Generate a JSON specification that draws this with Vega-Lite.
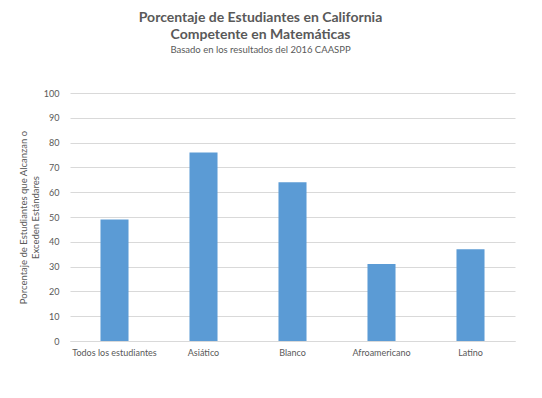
{
  "$schema": "https://vega.github.io/schema/vega-lite/v6.json",
  "width": 445,
  "height": 248,
  "autosize": {"type": "none"},
  "padding": {"left": 70, "top": 93, "right": 27, "bottom": 57},
  "background": "white",
  "title": {
    "text": ["Porcentaje de Estudiantes en California", "Competente en Matemáticas"],
    "subtitle": "Basado en los resultados  del 2016 CAASPP",
    "anchor": "middle",
    "frame": "group",
    "dx": -32,
    "offset": 35,
    "font": "Lato",
    "fontSize": 14,
    "fontWeight": "bold",
    "color": "#595959",
    "lineHeight": 17,
    "subtitleFont": "Lato",
    "subtitleFontSize": 9.5,
    "subtitleColor": "#595959",
    "subtitlePadding": 3
  },
  "data": {
    "values": [
      {"grupo": "Todos los estudiantes", "pct": 49},
      {"grupo": "Asiático", "pct": 76},
      {"grupo": "Blanco", "pct": 64},
      {"grupo": "Afroamericano", "pct": 31},
      {"grupo": "Latino", "pct": 37}
    ]
  },
  "mark": {"type": "bar", "color": "#5B9BD5"},
  "encoding": {
    "x": {
      "field": "grupo",
      "type": "nominal",
      "sort": null,
      "scale": {"paddingInner": 0.685, "paddingOuter": 0.3425},
      "axis": {
        "title": null,
        "labelAngle": 0,
        "labelFont": "Lato",
        "labelFontSize": 9,
        "labelColor": "#595959",
        "labelPadding": 7,
        "ticks": false,
        "domainColor": "#d9d9d9"
      }
    },
    "y": {
      "field": "pct",
      "type": "quantitative",
      "scale": {"domain": [0, 100]},
      "axis": {
        "values": [0, 10, 20, 30, 40, 50, 60, 70, 80, 90, 100],
        "title": ["Porcentaje de Estudiantes que Alcanzan o", "Exceden Estándares"],
        "titleFont": "Lato",
        "titleFontSize": 9.5,
        "titleFontWeight": "normal",
        "titleColor": "#595959",
        "titlePadding": 3,
        "titleLineHeight": 12,
        "labelFont": "Lato",
        "labelFontSize": 9,
        "labelColor": "#595959",
        "labelPadding": 11,
        "ticks": false,
        "domain": false,
        "gridColor": "#d9d9d9"
      }
    }
  },
  "config": {"view": {"stroke": null}}
}
